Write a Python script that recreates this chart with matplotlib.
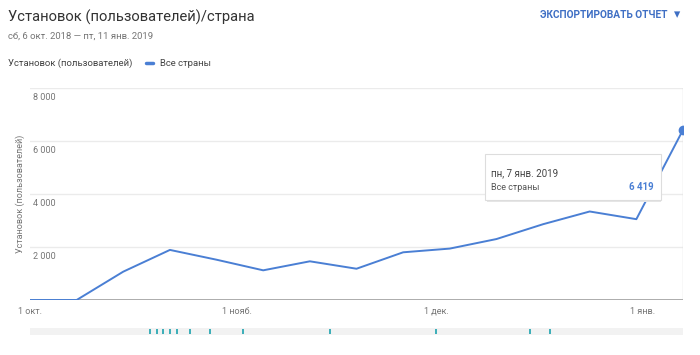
import numpy as np
import matplotlib
matplotlib.use('Agg')
import matplotlib.pyplot as plt
import matplotlib.dates as mdates
from matplotlib.patches import Rectangle

plt.rcParams['font.family'] = ['Roboto', 'DejaVu Sans']

# weekly installs, all countries
weeks = ['2018-10-01', '2018-10-08', '2018-10-15', '2018-10-22', '2018-10-29',
         '2018-11-05', '2018-11-12', '2018-11-19', '2018-11-26', '2018-12-03',
         '2018-12-10', '2018-12-17', '2018-12-24', '2018-12-31', '2019-01-07']
installs = [0, 0, 1070, 1890, 1520, 1120, 1460, 1180, 1800, 1940,
            2300, 2860, 3340, 3050, 6419]

month_ticks = ['2018-10-01', '2018-11-01', '2018-12-01', '2019-01-01']
month_labels = ['1 окт.', '1 нояб.', '1 дек.', '1 янв.']
y_ticks = [2000, 4000, 6000, 8000]
y_labels = ['2 000', '4 000', '6 000', '8 000']

# annotation markers under the chart
events = ['2018-10-19', '2018-10-20', '2018-10-21', '2018-10-22', '2018-10-23',
          '2018-10-25', '2018-10-28', '2018-11-02', '2018-11-15', '2018-12-01',
          '2018-12-15', '2018-12-18']

blue = '#4a7fd4'
grey_txt = '#757575'

x = mdates.date2num(np.array(weeks, dtype='datetime64[D]'))
xt = mdates.date2num(np.array(month_ticks, dtype='datetime64[D]'))
xe = mdates.date2num(np.array(events, dtype='datetime64[D]'))

W, H = 700, 355
fig = plt.figure(figsize=(7, 3.55), dpi=100)

def fx(px):
    return px / W

def fy(py):
    return 1 - py / H

ax = fig.add_axes([fx(30), fy(300), fx(683) - fx(30), fy(88) - fy(300)])
ax.plot(x, installs, color=blue, lw=1.4, zorder=3)
ax.plot(x[-1], installs[-1], 'o', color=blue, ms=6, zorder=4)
ax.set_xlim(x[0], x[-1])
ax.set_ylim(0, 8000)
for v in y_ticks:
    ax.axhline(v, color='#ebebeb', lw=1, zorder=1)
for v, lab in zip(y_ticks, y_labels):
    ax.text(x[0] + 0.5, v - 180, lab, fontsize=6.5, color=grey_txt, va='top', ha='left')
ax.axvline(x[-1], color='#dcdcdc', lw=1, zorder=2)
ax.axhline(0, color='#9e9e9e', lw=1.2, zorder=2)
ax.set_xticks(xt)
ax.set_xticklabels(month_labels, fontsize=6.5, color=grey_txt)
ax.tick_params(axis='x', length=0, pad=5)
ax.set_yticks([])
for s in ax.spines.values():
    s.set_visible(False)

fig.text(fx(20), fy(194), 'Установок (пользователей)', rotation=90, fontsize=6.5,
         color=grey_txt, ha='center', va='center')

# bottom strip with event markers
ax2 = fig.add_axes([fx(30), fy(335), fx(683) - fx(30), fy(328) - fy(335)])
ax2.set_facecolor('#f2f2f2')
ax2.vlines(xe, 0.15, 0.85, color='#3aaeb8', lw=1.4)
ax2.set_xlim(x[0], x[-1])
ax2.set_ylim(0, 1)
ax2.set_xticks([])
ax2.set_yticks([])
for s in ax2.spines.values():
    s.set_visible(False)

# header texts
fig.text(fx(8), fy(17), 'Установок (пользователей)/страна', fontsize=10.6, color='#333333', va='center')
fig.text(fx(8), fy(36), 'сб, 6 окт. 2018 — пт, 11 янв. 2019', fontsize=6.8, color=grey_txt, va='center')
fig.text(fx(8), fy(63), 'Установок (пользователей)', fontsize=6.8, color='#444444', va='center')
fig.add_artist(plt.Line2D([fx(146), fx(153)], [fy(63), fy(63)], color=blue, lw=2.5,
                          solid_capstyle='round'))
fig.text(fx(160), fy(63), 'Все страны', fontsize=6.8, color='#444444', va='center')
fig.text(fx(668), fy(15), 'ЭКСПОРТИРОВАТЬ ОТЧЕТ', fontsize=7.3, color='#3f6fc4',
         ha='right', va='center', fontweight='bold')
fig.text(fx(677), fy(15), '▾', fontsize=9, color='#3f6fc4', ha='center', va='center')

# tooltip
fig.add_artist(Rectangle((fx(487), fy(202)), fx(661) - fx(487), fy(155) - fy(202),
                         transform=fig.transFigure, facecolor='#e6e6e6', edgecolor='none', zorder=5))
fig.add_artist(Rectangle((fx(485), fy(200)), fx(661) - fx(485), fy(154) - fy(200),
                         transform=fig.transFigure, facecolor='white', edgecolor='#dddddd',
                         lw=0.8, zorder=6))
fig.text(fx(491), fy(173), 'пн, 7 янв. 2019', fontsize=7, color='#444444', va='center', zorder=7)
fig.text(fx(491), fy(187), 'Все страны', fontsize=6.5, color='#555555', va='center', zorder=7)
fig.text(fx(654), fy(187), '6 419', fontsize=7, color=blue, ha='right', va='center',
         fontweight='bold', zorder=7)

fig.savefig('out.png', dpi=100)
